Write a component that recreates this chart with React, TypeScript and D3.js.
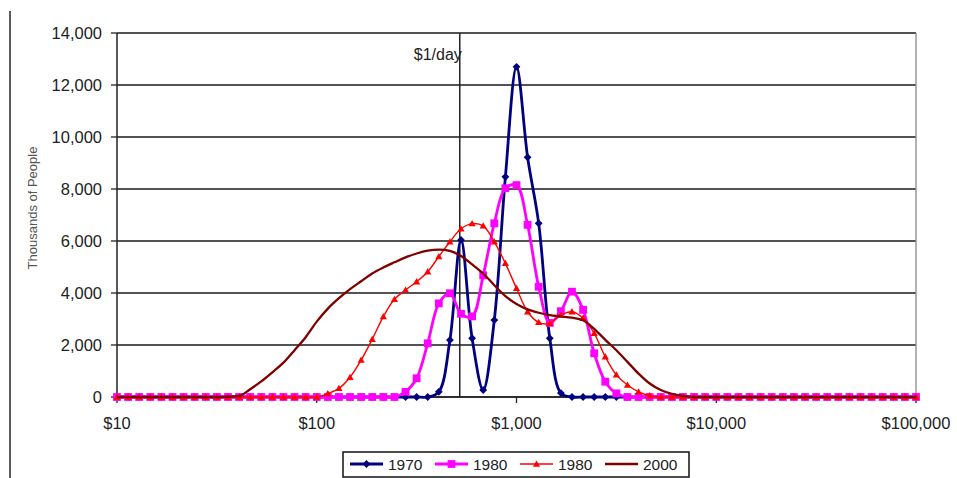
import React from "react";
import * as d3 from "d3";

// Income categories (log-spaced, 18 steps per decade)
const incomes = [
  10, 11.365, 12.915, 14.678, 16.681, 18.957, 21.544, 24.484, 27.826, 31.623, 35.938, 40.842, 46.416, 52.749, 59.948, 68.129, 77.426, 87.992,
  100, 113.65, 129.15, 146.78, 166.81, 189.57, 215.44, 244.84, 278.26, 316.23, 359.38, 408.42, 464.16, 527.49, 599.48, 681.29, 774.26, 879.92,
  1000, 1136.5, 1291.5, 1467.8, 1668.1, 1895.7, 2154.4, 2448.4, 2782.6, 3162.3, 3593.8, 4084.2, 4641.6, 5274.9, 5994.8, 6812.9, 7742.6, 8799.2,
  10000, 11365, 12915, 14678, 16681, 18957, 21544, 24484, 27826, 31623, 35938, 40842, 46416, 52749, 59948, 68129, 77426, 87992,
  100000,
];

const s1970 = [
  0, 0, 0, 0, 0, 0, 0, 0, 0, 0, 0, 0, 0, 0, 0, 0, 0, 0,
  0, 0, 0, 0, 0, 0, 0, 0, 0, 0, 0, 200, 2190, 6040, 2260, 270, 2960, 8470,
  12700, 9220, 6680, 2260, 150, 0, 0, 0, 0, 0, 0, 0, 0, 0, 0, 0, 0, 0,
  0, 0, 0, 0, 0, 0, 0, 0, 0, 0, 0, 0, 0, 0, 0, 0, 0, 0,
  0,
];

const s1980a = [
  0, 0, 0, 0, 0, 0, 0, 0, 0, 0, 0, 0, 0, 0, 0, 0, 0, 0,
  0, 0, 0, 0, 0, 0, 0, 0, 200, 720, 2065, 3600, 3990, 3200, 3100, 4680, 6680, 8030,
  8150, 6620, 4240, 2850, 3300, 4050, 3350, 1680, 590, 140, 0, 0, 0, 0, 0, 0, 0, 0,
  0, 0, 0, 0, 0, 0, 0, 0, 0, 0, 0, 0, 0, 0, 0, 0, 0, 0,
  0,
];

const s1980b = [
  0, 0, 0, 0, 0, 0, 0, 0, 0, 0, 0, 0, 0, 0, 0, 0, 0, 0,
  0, 130, 330, 760, 1420, 2220, 3090, 3760, 4115, 4435, 4820, 5400, 5970, 6470, 6670, 6580, 5970, 5140,
  4180, 3280, 2870, 2830, 3150, 3280, 3030, 2450, 1550, 850, 460, 200, 50, 0, 0, 0, 0, 0,
  0, 0, 0, 0, 0, 0, 0, 0, 0, 0, 0, 0, 0, 0, 0, 0, 0, 0,
  0,
];

const s2000 = [
  0, 0, 0, 0, 0, 0, 0, 0, 0, 0, 10, 40, 300, 600, 950, 1320, 1800, 2300,
  2900, 3400, 3800, 4150, 4450, 4750, 4980, 5180, 5370, 5520, 5630, 5670, 5620, 5420, 5100, 4750, 4300, 3880,
  3580, 3370, 3240, 3150, 3100, 3050, 2950, 2620, 2200, 1800, 1350, 900, 520, 270, 120, 40, 0, 0,
  0, 0, 0, 0, 0, 0, 0, 0, 0, 0, 0, 0, 0, 0, 0, 0, 0, 0,
  0,
];

const seriesNames = ["1970", "1980", "1980", "2000"];
const seriesColors = ["#000080", "#FF00FF", "#FF0000", "#800000"];
const xTicks = [10, 100, 1000, 10000, 100000];
const xTickLabels = ["$10", "$100", "$1,000", "$10,000", "$100,000"];
const yTicks = [0, 2000, 4000, 6000, 8000, 10000, 12000, 14000];
const povertyLine = 520;
const povertyLabel = "$1/day";
const yTitle = "Thousands of People";

const FONT = "'Liberation Sans', Arial, sans-serif";

export default function App() {
  const W = 957, H = 478;
  const left = 117, right = 916, top = 33, bottom = 397;
  const x = d3.scaleLog().domain([10, 100000]).range([left, right]);
  const y = d3.scaleLinear().domain([0, 14000]).range([bottom, top]);

  const allSeries = [s1970, s1980a, s1980b, s2000];
  const lineSmooth = d3
    .line<number>()
    .x((_, i) => x(incomes[i]))
    .y((v) => y(v))
    .curve(d3.curveCatmullRom.alpha(0.5));
  const lineSmooth2000 = d3
    .line<number>()
    .x((_, i) => x(incomes[i]))
    .y((v) => y(v))
    .curve(d3.curveMonotoneX);

  const diamond = (cx: number, cy: number, r: number) =>
    `M${cx},${cy - r}L${cx + r},${cy}L${cx},${cy + r}L${cx - r},${cy}Z`;
  const triangle = (cx: number, cy: number, r: number) =>
    `M${cx},${cy - r}L${cx + r},${cy + r * 0.75}L${cx - r},${cy + r * 0.75}Z`;

  const marker = (k: number, cx: number, cy: number, key: string) => {
    const c = seriesColors[k];
    if (k === 0) return <path key={key} d={diamond(cx, cy, 3.9)} fill={c} />;
    if (k === 1)
      return <rect key={key} x={cx - 3.9} y={cy - 3.9} width={7.8} height={7.8} fill={c} />;
    if (k === 2) return <path key={key} d={triangle(cx, cy, 3.6)} fill={c} />;
    return null;
  };

  const widths = [2.8, 2.8, 1.4, 2.3];

  const legendItems = [
    { lx: 350, tx: 388 },
    { lx: 435, tx: 473 },
    { lx: 520, tx: 558 },
    { lx: 605, tx: 643 },
  ];
  const legendY = 464;

  return (
    <div style={{ position: "fixed", left: 0, top: 0 }}>
      <svg width={W} height={H} style={{ display: "block", background: "#fff" }}>
        {/* outer chart border (left side) */}
        <line x1={10} x2={10} y1={11} y2={H} stroke="#333" strokeWidth={1.6} />

        {/* gridlines */}
        {yTicks.map((t) => (
          <line key={"g" + t} x1={left} x2={right} y1={y(t)} y2={y(t)} stroke="#1a1a1a" strokeWidth={1.3} />
        ))}
        {/* right border of plot area */}
        <line x1={right} x2={right} y1={top} y2={bottom} stroke="#8a8a8a" strokeWidth={1.3} />

        {/* poverty line */}
        <line x1={x(povertyLine)} x2={x(povertyLine)} y1={top} y2={bottom} stroke="#222" strokeWidth={1.5} />
        <text x={x(povertyLine) - 46} y={60} fontFamily={FONT} fontSize={16} fill="#222">
          {povertyLabel}
        </text>

        {/* y axis */}
        <line x1={left} x2={left} y1={top} y2={bottom} stroke="#222" strokeWidth={1.5} />
        {yTicks.map((t) => (
          <g key={"yt" + t}>
            <line x1={left - 6} x2={left} y1={y(t)} y2={y(t)} stroke="#222" strokeWidth={1.3} />
            <text
              x={102}
              y={y(t)}
              dy="0.36em"
              textAnchor="end"
              fontFamily={FONT}
              fontSize={16.5}
              fill="#222"
            >
              {d3.format(",")(t)}
            </text>
          </g>
        ))}
        <text
          transform={`translate(37,${208}) rotate(-90)`}
          textAnchor="middle"
          fontFamily={FONT}
          fontSize={13}
          fill="#555"
        >
          {yTitle}
        </text>

        {/* x axis */}
        <line x1={left} x2={right} y1={bottom} y2={bottom} stroke="#222" strokeWidth={1.5} />
        {xTicks.map((t, i) => (
          <g key={"xt" + t}>
            <line x1={x(t)} x2={x(t)} y1={bottom} y2={bottom + 6} stroke="#222" strokeWidth={1.3} />
            <text
              x={x(t)}
              y={429}
              textAnchor="middle"
              fontFamily={FONT}
              fontSize={16.5}
              fill="#222"
            >
              {xTickLabels[i]}
            </text>
          </g>
        ))}

        {/* series */}
        {allSeries.map((s, k) => (
          <g key={"s" + k}>
            <path
              d={(k === 3 ? lineSmooth2000(s) : lineSmooth(s)) || ""}
              fill="none"
              stroke={seriesColors[k]}
              strokeWidth={widths[k]}
              strokeLinejoin="round"
            />
            {k < 3 && s.map((v, i) => marker(k, x(incomes[i]), y(v), k + "-" + i))}
          </g>
        ))}

        {/* legend */}
        <rect x={343} y={452} width={346} height={25} fill="#fff" stroke="#111" strokeWidth={1.5} />
        {legendItems.map((it, k) => (
          <g key={"lg" + k}>
            <line
              x1={it.lx}
              x2={it.lx + 33}
              y1={legendY}
              y2={legendY}
              stroke={seriesColors[k]}
              strokeWidth={widths[k]}
            />
            {marker(k, it.lx + 16.5, legendY, "lm" + k)}
            <text x={it.tx} y={legendY} dy="0.36em" fontFamily={FONT} fontSize={15.5} fill="#222">
              {seriesNames[k]}
            </text>
          </g>
        ))}
      </svg>
    </div>
  );
}
